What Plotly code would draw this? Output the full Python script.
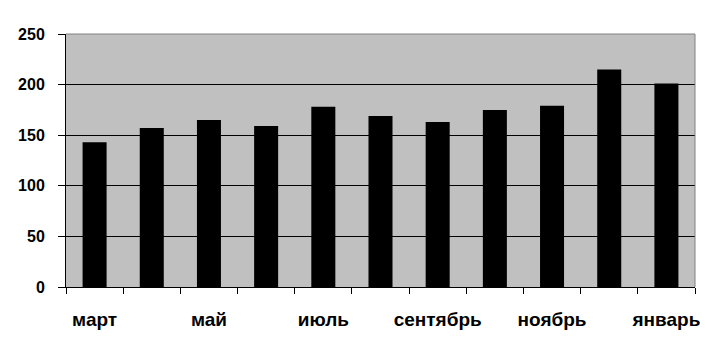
import plotly.graph_objects as go

months = ["март", "апрель", "май", "июнь", "июль", "август", "сентябрь",
          "октябрь", "ноябрь", "декабрь", "январь"]
values = [143, 157, 165, 159, 178, 169, 163, 175, 179, 215, 201]
tick_labels = ["март", "", "май", "", "июль", "", "сентябрь", "", "ноябрь", "", "январь"]
y_ticks = [0, 50, 100, 150, 200, 250]

fig = go.Figure(go.Bar(x=months, y=values, marker=dict(color="black", line=dict(width=0))))

fig.update_layout(
    width=711, height=351,
    margin=dict(l=66, r=16, t=34, b=64, autoexpand=False),
    paper_bgcolor="white",
    plot_bgcolor="#C0C0C0",
    bargap=0.58,
    showlegend=False,
    font=dict(family="Arial, Liberation Sans, sans-serif", color="black"),
)
fig.update_xaxes(
    type="category",
    tickmode="array", tickvals=months, ticktext=tick_labels,
    tickson="boundaries", ticks="outside", ticklen=6, tickcolor="black", tickwidth=1,
    showline=True, linecolor="black", linewidth=1,
    showgrid=False, tickangle=0, automargin=False,
    tickfont=dict(size=19, family="Arial, Liberation Sans, sans-serif", weight="bold"),
    ticklabelstandoff=15,
)
fig.update_yaxes(
    range=[0, 250], tickmode="array", tickvals=y_ticks,
    ticks="outside", ticklen=7, tickcolor="black", tickwidth=1,
    showline=True, linecolor="black", linewidth=1,
    showgrid=True, gridcolor="black", gridwidth=1,
    zeroline=False, automargin=False,
    tickfont=dict(size=16, family="Arial, Liberation Sans, sans-serif", weight="bold"),
    ticklabelstandoff=10,
)
# gray top and right plot-area border
fig.add_shape(type="line", xref="x domain", yref="y domain", x0=0, x1=1, y0=1, y1=1,
              line=dict(color="#808080", width=1), layer="above")
fig.add_shape(type="line", xref="x domain", yref="y domain", x0=1, x1=1, y0=0, y1=1,
              line=dict(color="#808080", width=1), layer="above")

fig.write_html("out.html")
